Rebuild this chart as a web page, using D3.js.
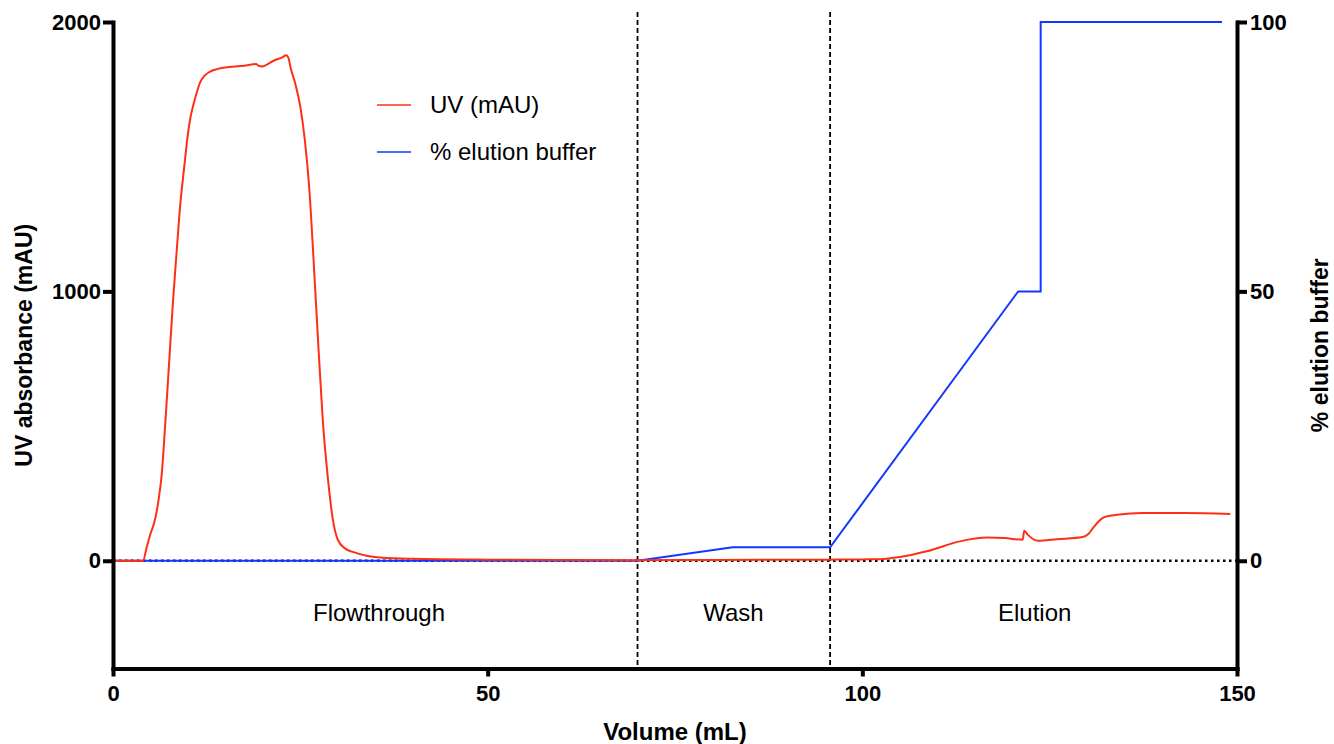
<!DOCTYPE html>
<html>
<head>
<meta charset="utf-8">
<script src="https://cdn.jsdelivr.net/npm/d3@7"></script>
<style>
  html, body { margin: 0; padding: 0; background: #fff; }
  svg { display: block; font-family: "Liberation Sans", Arial, Helvetica, sans-serif; }
</style>
</head>
<body>
<svg id="chart" width="1334" height="744"></svg>
<script>
// UV trace: [volume (mL), absorbance (mAU)]
const uvTrace = [
  [0, 0], [4.0, 0], [4.5, 50], [5.0, 100], [5.6, 152], [6.1, 230], [6.5, 320],
  [7.0, 520], [7.5, 740], [8.0, 960], [8.5, 1150], [9.0, 1330], [9.5, 1460],
  [9.9, 1562], [10.3, 1640], [10.7, 1690], [11.2, 1740], [11.6, 1774],
  [12.2, 1800], [12.9, 1815], [14.0, 1826], [15.5, 1833], [17.5, 1838],
  [19.1, 1844], [19.4, 1838], [19.9, 1835], [20.4, 1840], [21.5, 1857],
  [22.6, 1869], [23.1, 1877], [23.4, 1868], [23.7, 1830], [24.3, 1774],
  [25.0, 1685], [25.6, 1562], [26.2, 1380], [26.8, 1100], [27.4, 800],
  [28.0, 520], [28.7, 300], [29.3, 160], [30.0, 78], [31.0, 45], [32.0, 33],
  [34.0, 18], [36.0, 11], [40.0, 7], [50.0, 4], [60.0, 3], [70.0, 2],
  [80.0, 3], [95.0, 4], [100.0, 5], [102.3, 6], [105.0, 14], [108.6, 35],
  [113.0, 72], [116.6, 86], [119.0, 84], [121.4, 78], [121.6, 111],
  [122.1, 96], [123.4, 74], [126.0, 80], [129.4, 88], [130.2, 100],
  [130.8, 122], [131.5, 145], [132.1, 159], [133.0, 167], [134.0, 171],
  [137.4, 177], [143.0, 177], [149.1, 174]
];

// Elution buffer programme: [volume (mL), % elution buffer]
const bufferTrace = [
  [0, 0], [70.0, 0], [82.7, 2.5], [95.7, 2.5], [120.8, 50], [123.8, 50],
  [123.8, 100], [148.0, 100]
];

// Phase boundaries and labels
const phaseBounds = [70.0, 95.7];
const phaseNames = ["Flowthrough", "Wash", "Elution"];
const phaseCenters = [35.5, 82.8, 123.0];

const xTicks = [0, 50, 100, 150];
const yLeftTicks = [0, 1000, 2000];
const yRightTicks = [0, 50, 100];

const seriesNames = ["UV (mAU)", "% elution buffer"];
const seriesColors = ["#ff2f14", "#1238ff"];

const svg = d3.select("#chart");
const plotLeft = 113, plotRight = 1237, plotTop = 22, plotBottom = 668.5;

const x = d3.scaleLinear().domain([0, 150]).range([plotLeft, plotRight]);
const yL = d3.scaleLinear().domain([-400, 2000]).range([plotBottom, plotTop]);
const yR = d3.scaleLinear().domain([-20, 100]).range([plotBottom, plotTop]);

// zero reference line
svg.append("line")
  .attr("x1", x(0)).attr("x2", x(150))
  .attr("y1", yL(0)).attr("y2", yL(0))
  .attr("stroke", "#000").attr("stroke-width", 2.5)
  .attr("stroke-dasharray", "2.5,3.5");

// phase separators
svg.selectAll("line.phase").data(phaseBounds).join("line")
  .attr("class", "phase")
  .attr("x1", d => x(d)).attr("x2", d => x(d))
  .attr("y1", yL(2037)).attr("y2", plotBottom)
  .attr("stroke", "#000").attr("stroke-width", 1.8)
  .attr("stroke-dasharray", "5,3");

// phase labels
svg.selectAll("text.phase").data(phaseNames).join("text")
  .attr("class", "phase")
  .attr("x", (d, i) => x(phaseCenters[i]))
  .attr("y", 621)
  .attr("text-anchor", "middle")
  .attr("font-size", 24)
  .text(d => d);

// buffer line
const bufLine = d3.line().x(d => x(d[0])).y(d => yR(d[1]));
svg.append("path")
  .attr("d", bufLine(bufferTrace))
  .attr("fill", "none").attr("stroke", seriesColors[1]).attr("stroke-width", 2);

// UV line
const uvLine = d3.line().x(d => x(d[0])).y(d => yL(d[1])).curve(d3.curveMonotoneX);
svg.append("path")
  .attr("d", uvLine(uvTrace))
  .attr("fill", "none").attr("stroke", seriesColors[0]).attr("stroke-width", 2);

// axes
function styleAxis(g) {
  g.select(".domain").attr("stroke-width", 4).attr("stroke-linecap", "square");
  g.selectAll(".tick line").attr("stroke-width", 4);
  g.selectAll(".tick text").attr("font-size", 22).attr("font-weight", "bold").attr("fill", "#000");
  g.attr("font-family", null);
}

svg.append("g")
  .attr("transform", `translate(0,${plotBottom})`)
  .call(d3.axisBottom(x).tickValues(xTicks).tickFormat(d3.format("d")).tickSize(8).tickSizeOuter(0).tickPadding(9))
  .call(styleAxis);

svg.append("g")
  .attr("transform", `translate(${plotLeft},0)`)
  .call(d3.axisLeft(yL).tickValues(yLeftTicks).tickFormat(d3.format("d")).tickSize(10).tickSizeOuter(0).tickPadding(2))
  .call(styleAxis);

svg.append("g")
  .attr("transform", `translate(${plotRight},0)`)
  .call(d3.axisRight(yR).tickValues(yRightTicks).tickFormat(d3.format("d")).tickSize(10).tickSizeOuter(0).tickPadding(3))
  .call(styleAxis);

// axis titles
svg.append("text")
  .attr("x", (plotLeft + plotRight) / 2).attr("y", 740)
  .attr("text-anchor", "middle").attr("font-size", 24).attr("font-weight", "bold")
  .text("Volume (mL)");

svg.append("text")
  .attr("transform", `translate(32,${(plotTop + plotBottom) / 2}) rotate(-90)`)
  .attr("text-anchor", "middle").attr("font-size", 23).attr("font-weight", "bold")
  .text("UV absorbance (mAU)");

svg.append("text")
  .attr("transform", `translate(1328,${(plotTop + plotBottom) / 2}) rotate(-90)`)
  .attr("text-anchor", "middle").attr("font-size", 23).attr("font-weight", "bold")
  .text("% elution buffer");

// legend
const legend = svg.append("g").selectAll("g").data(seriesNames).join("g")
  .attr("transform", (d, i) => `translate(377,${105 + i * 47})`);
legend.append("line")
  .attr("x1", 0).attr("x2", 34).attr("y1", 0).attr("y2", 0)
  .attr("stroke", (d, i) => seriesColors[i]).attr("stroke-width", 1.5);
legend.append("text")
  .attr("x", 53).attr("y", 8)
  .attr("font-size", 24)
  .text(d => d);
</script>
</body>
</html>
